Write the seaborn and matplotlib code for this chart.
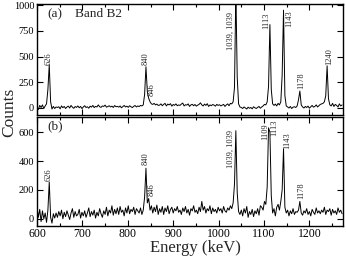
import numpy as np
import pandas as pd
import matplotlib
matplotlib.use("Agg")
import matplotlib.pyplot as plt
import seaborn as sns
from matplotlib.ticker import MultipleLocator

# ---- data (3 keV bins, 600 .. 1272 keV) ----
energy_start = 600
energy_step = 3
counts_a = [
    10, -15, 25, 5, 30, -5, 20, 40, 180, 420, 60, -10, 15, -5, 10,
    5, 12, -8, 20, 3, 15, -5, 10, 18, 0, 25, 8, -3, 14, 6,
    20, 2, 15, -6, 10, 22, 5, 12, -2, 18, 8, 25, 4, 16, 10,
    30, 12, 6, 20, 15, 28, 8, 14, 22, 10, 18, 5, 24, 12, 16,
    8, 20, 2, 14, 25, 10, 18, 6, 22, 12, 4, 16, 24, 10, 20,
    14, 25, 20, 30, 130, 400, 160, 95, 60, 40, 35, 45, 30, 38, 25,
    28, 40, 22, 35, 45, 20, 38, 30, 42, 18, 34, 26, 40, 22, 30,
    25, 38, 48, 20, 32, 28, 40, 15, 30, 36, 22, 34, 18, 28, 35,
    50, 30, 20, 38, 25, 42, 15, 30, 22, 34, 28, 18, 35, 25, 32,
    20, 28, 35, 15, 30, 40, 22, 45, 40, 60, 200, 1150, 300, 40, 10,
    5, -5, 10, 0, -10, 8, -3, 5, -8, 12, 2, -5, 6, 15, -2,
    10, 20, 35, 30, 60, 210, 810, 180, 40, 25, 38, 20, 45, 30, 60,
    320, 950, 120, 20, 10, 0, 15, -5, 8, 12, 5, 20, 80, 165, 30,
    10, 0, 15, 5, 18, -2, 12, 25, 8, 15, 30, 10, 22, 35, 40,
    45, 60, 120, 410, 90, 30, 20, 45, 15, 35, 25, 10, 40, 20, 30,
]
counts_b = [
    80, 10, 65, -20, 55, 0, 40, -25, 60, 255, 10, -30, 35, 5, 40,
    10, 50, 20, 60, 0, 45, 15, 55, 25, -5, 40, 70, 10, 50, 20,
    30, 65, 5, 45, 20, 55, 10, 40, 75, 15, 50, 25, 60, 5, 45,
    20, 70, 35, 10, 55, 30, 80, 20, 60, 40, 90, 25, 65, 35, 75,
    30, 85, 45, 60, 20, 75, 40, 90, 35, 65, 50, 80, 30, 70, 55,
    40, 75, 30, 60, 150, 350, 110, 140, 60, 90, 40, 80, 50, 95, 30,
    70, 45, 85, 30, 75, 50, 90, 35, 65, 80, 40, 70, 55, 85, 45,
    60, 30, 75, 50, 85, 40, 65, 25, 70, 55, 90, 45, 60, 35, 80,
    50, 120, 60, 85, 40, 70, 55, 90, 35, 75, 50, 65, 40, 80, 55,
    70, 40, 85, 55, 45, 75, 60, 90, 70, 110, 240, 610, 180, 50, 30,
    60, 20, 70, 40, 85, 10, 50, 30, 65, 15, 55, 35, 70, 25, 90,
    80, 60, 120, 100, 220, 630, 600, 160, 40, 70, 20, 80, 100, 60, 120,
    200, 485, 80, 40, 60, 20, 55, 35, 70, 30, 50, 45, 60, 120, 40,
    25, 55, 40, 70, 30, 50, 20, 65, 45, 30, 75, 40, 55, 35, 60,
    45, 80, 30, 60, 50, 70, 25, 65, 40, 55, 30, 75, 45, 60, 35,
]
energy = energy_start + energy_step * np.arange(len(counts_a))

labels_a = ["626", "840", "846", "1039, 1039", "1113", "1143", "1178", "1240"]
label_x_a = [626, 840, 852, 1027, 1104, 1156, 1181, 1244]
label_y_a = [420, 420, 120, 560, 770, 790, 180, 420]

labels_b = ["626", "840", "846", "1039, 1039", "1109", "1113", "1143", "1178"]
label_x_b = [626, 840, 853, 1026, 1103, 1122, 1151, 1182]
label_y_b = [265, 370, 155, 355, 545, 575, 480, 140]

df_a = pd.DataFrame({"Energy": energy, "Counts": counts_a})
df_b = pd.DataFrame({"Energy": energy, "Counts": counts_b})

# ---- style ----
sns.set_style("ticks")
plt.rcParams["font.family"] = ["Liberation Serif", "DejaVu Serif"]

fig = plt.figure(figsize=(3.46, 2.56), dpi=100)
ax_a = fig.add_axes([37 / 346, 1 - 115 / 256, 306 / 346, 111 / 256])
ax_b = fig.add_axes([37 / 346, 1 - 226 / 256, 306 / 346, 109 / 256])

for ax, df in ((ax_a, df_a), (ax_b, df_b)):
    sns.lineplot(data=df, x="Energy", y="Counts", ax=ax, color="black",
                 linewidth=0.7, legend=False)
    ax.set_xlim(600, 1274)
    ax.xaxis.set_major_locator(MultipleLocator(100))
    ax.xaxis.set_minor_locator(MultipleLocator(50))
    ax.tick_params(which="both", direction="in", top=True, right=True,
                   colors="black", width=0.8)
    ax.tick_params(which="major", length=4)
    ax.tick_params(which="minor", length=2.5)
    ax.tick_params(axis="y", labelsize=7.5, pad=2)
    ax.tick_params(axis="x", labelsize=8.5, pad=1.5)
    for s in ax.spines.values():
        s.set_color("black")
        s.set_linewidth(1.0)
    ax.set_xlabel("")
    ax.set_ylabel("")

ax_a.set_ylim(-68, 1010)
ax_a.yaxis.set_major_locator(MultipleLocator(250))
ax_a.tick_params(axis="x", labelbottom=False)
ax_b.set_ylim(-50, 705)
ax_b.yaxis.set_major_locator(MultipleLocator(200))

for t, x, y in zip(labels_a, label_x_a, label_y_a):
    ax_a.text(x, y, t, rotation=90, ha="center", va="bottom", fontsize=6)
for t, x, y in zip(labels_b, label_x_b, label_y_b):
    ax_b.text(x, y, t, rotation=90, ha="center", va="bottom", fontsize=6)

ax_a.text(0.033, 0.91, "(a)", transform=ax_a.transAxes, fontsize=9.5,
          ha="left", va="center")
ax_a.text(0.125, 0.91, "Band B2", transform=ax_a.transAxes, fontsize=9.5,
          ha="left", va="center")
ax_b.text(0.033, 0.915, "(b)", transform=ax_b.transAxes, fontsize=9.5,
          ha="left", va="center")

fig.text(0.026, 0.56, "Counts", rotation=90, ha="center", va="center",
         fontsize=12.5)
fig.text(0.565, 0.0, "Energy (keV)", ha="center", va="bottom",
         fontsize=12)

fig.savefig("out.png", dpi=100)
